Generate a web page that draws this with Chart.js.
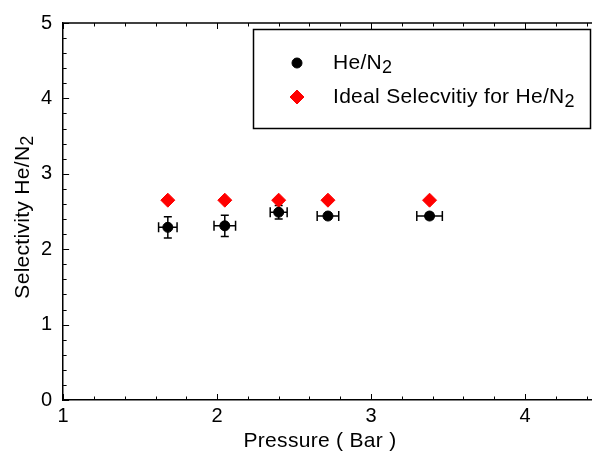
<!DOCTYPE html>
<html>
<head>
<meta charset="utf-8">
<script src="https://cdn.jsdelivr.net/npm/chart.js@4.4.0/dist/chart.umd.min.js"></script>
<style>
  html, body { margin: 0; padding: 0; background: #fff; }
  #wrap { width: 592px; height: 459px; }
</style>
</head>
<body>
<div id="wrap"><canvas id="chart" width="592" height="459"></canvas></div>
<script>
// measured mixed-gas selectivity He/N2 vs feed pressure
const pressure = [1.68, 2.05, 2.40, 2.72, 3.38];
const selectivity = [2.29, 2.31, 2.49, 2.44, 2.44];
const pressureErr = [0.06, 0.07, 0.055, 0.07, 0.083];
const selectivityErr = [0.14, 0.14, 0.09, 0.04, 0.04];
// ideal selectivity (ratio of single gas permeances)
const idealSelectivity = [2.65, 2.65, 2.65, 2.65, 2.65];

const xTicks = [1, 2, 3, 4];
const yTicks = [0, 1, 2, 3, 4, 5];
// "_2" marks a subscript
const seriesLabels = ['He/N_2', 'Ideal Selecvitiy for He/N_2'];
const xTitle = 'Pressure ( Bar )';
const yTitle = 'Selectivity He/N_2';

const FONT = '"Liberation Sans", Arial, sans-serif';

function richParts(text) {
  const parts = [];
  const re = /_(\w)/g;
  let last = 0, m;
  while ((m = re.exec(text))) {
    if (m.index > last) parts.push({ t: text.slice(last, m.index), sub: false });
    parts.push({ t: m[1], sub: true });
    last = re.lastIndex;
  }
  if (last < text.length) parts.push({ t: text.slice(last), sub: false });
  return parts;
}

// text with subscripts, baseline at y
function drawRich(ctx, text, x, y, size, align) {
  const parts = richParts(text);
  const fontFor = p => (p.sub ? Math.round(size * 0.86) : size) + 'px ' + FONT;
  ctx.letterSpacing = '0.3px';
  let total = 0;
  parts.forEach(p => { ctx.font = fontFor(p); p.w = ctx.measureText(p.t).width; total += p.w; });
  let cx = align === 'center' ? x - total / 2 : x;
  ctx.textAlign = 'left';
  ctx.textBaseline = 'alphabetic';
  parts.forEach(p => {
    ctx.font = fontFor(p);
    ctx.fillText(p.t, cx, y + (p.sub ? size * 0.21 : 0));
    cx += p.w;
  });
  ctx.letterSpacing = '0px';
}

// error bars with caps, both directions
const errorBars = {
  id: 'errorBars',
  beforeDatasetsDraw(chart) {
    const { ctx, scales: { x, y } } = chart;
    ctx.save();
    ctx.strokeStyle = '#000';
    ctx.lineWidth = 1.5;
    pressure.forEach((p, i) => {
      const px = x.getPixelForValue(p), py = y.getPixelForValue(selectivity[i]);
      const x0 = x.getPixelForValue(p - pressureErr[i]), x1 = x.getPixelForValue(p + pressureErr[i]);
      const y0 = y.getPixelForValue(selectivity[i] - selectivityErr[i]);
      const y1 = y.getPixelForValue(selectivity[i] + selectivityErr[i]);
      ctx.beginPath();
      ctx.moveTo(x0, py); ctx.lineTo(x1, py);
      ctx.moveTo(x0, py - 5); ctx.lineTo(x0, py + 5);
      ctx.moveTo(x1, py - 5); ctx.lineTo(x1, py + 5);
      ctx.moveTo(px, y0); ctx.lineTo(px, y1);
      ctx.moveTo(px - 4, y0); ctx.lineTo(px + 4, y0);
      ctx.moveTo(px - 4, y1); ctx.lineTo(px + 4, y1);
      ctx.stroke();
    });
    ctx.restore();
  }
};

// top border, inward ticks, axis titles and the boxed legend
const frame = {
  id: 'frame',
  afterDraw(chart) {
    const { ctx, chartArea: a, scales: { x, y } } = chart;
    ctx.save();
    ctx.strokeStyle = '#000';
    ctx.lineWidth = 1.5;
    ctx.beginPath();
    ctx.moveTo(a.left, a.top); ctx.lineTo(chart.width, a.top);
    ctx.stroke();

    ctx.lineWidth = 1;
    ctx.beginPath();
    for (let i = 0; ; i++) {
      const v = Math.round((x.min + i * 0.2) * 10) / 10;
      if (v > x.max) break;
      const px = Math.round(x.getPixelForValue(v)) + 0.5;
      const len = Number.isInteger(v) ? 6 : 3.5;
      ctx.moveTo(px, a.bottom); ctx.lineTo(px, a.bottom - len);
      ctx.moveTo(px, a.top); ctx.lineTo(px, a.top + len);
    }
    for (let i = 0; ; i++) {
      const v = Math.round((y.min + i * 0.2) * 10) / 10;
      if (v > y.max) break;
      const py = Math.round(y.getPixelForValue(v)) + 0.5;
      const len = Number.isInteger(v) ? 6 : 3.5;
      ctx.moveTo(a.left, py); ctx.lineTo(a.left + len, py);
    }
    ctx.stroke();

    ctx.fillStyle = '#000';
    drawRich(ctx, xTitle, 320, 447, 21, 'center');
    ctx.save();
    ctx.translate(29, 217);
    ctx.rotate(-Math.PI / 2);
    drawRich(ctx, yTitle, 0, 0, 21, 'center');
    ctx.restore();

    // legend box
    ctx.lineWidth = 1.5;
    ctx.strokeRect(253.5, 29.5, 337, 99);
    const rows = [63, 97];
    chart.data.datasets.forEach((ds, i) => {
      ctx.fillStyle = ds.backgroundColor;
      ctx.strokeStyle = ds.borderColor;
      ctx.lineWidth = 1;
      Chart.helpers.drawPoint(ctx, { pointStyle: ds.pointStyle, radius: ds.pointRadius, rotation: 0, borderWidth: 1 }, 297, rows[i]);
      ctx.fillStyle = '#000';
      drawRich(ctx, ds.label, 333, rows[i] + 6, 21, 'left');
    });
    ctx.restore();
  }
};

const axisFont = { family: FONT, size: 20 };

new Chart(document.getElementById('chart'), {
  type: 'scatter',
  data: {
    datasets: [
      {
        label: seriesLabels[0],
        data: pressure.map((p, i) => ({ x: p, y: selectivity[i] })),
        pointStyle: 'circle',
        pointRadius: 5,
        backgroundColor: '#000000',
        borderColor: '#000000',
        borderWidth: 1
      },
      {
        label: seriesLabels[1],
        data: pressure.map((p, i) => ({ x: p, y: idealSelectivity[i] })),
        pointStyle: 'rectRot',
        pointRadius: 7,
        backgroundColor: '#ff0000',
        borderColor: '#ff0000',
        borderWidth: 1
      }
    ]
  },
  options: {
    responsive: false,
    animation: false,
    devicePixelRatio: 1,
    layout: { autoPadding: false, padding: { left: 30, top: 23, right: 0, bottom: 27 } },
    plugins: { legend: { display: false }, tooltip: { enabled: false } },
    scales: {
      x: {
        type: 'linear',
        min: 1,
        max: 4.435,
        afterBuildTicks: s => { s.ticks = xTicks.map(v => ({ value: v })); },
        grid: { display: false, drawTicks: false },
        border: { display: true, color: '#000', width: 1.5 },
        ticks: { color: '#000', font: axisFont, padding: 4, maxRotation: 0 }
      },
      y: {
        type: 'linear',
        min: 0,
        max: 5,
        afterBuildTicks: s => { s.ticks = yTicks.map(v => ({ value: v })); },
        grid: { display: false, drawTicks: false },
        border: { display: true, color: '#000', width: 1.5 },
        ticks: { color: '#000', font: axisFont, padding: 11 }
      }
    }
  },
  plugins: [errorBars, frame]
});
</script>
</body>
</html>
